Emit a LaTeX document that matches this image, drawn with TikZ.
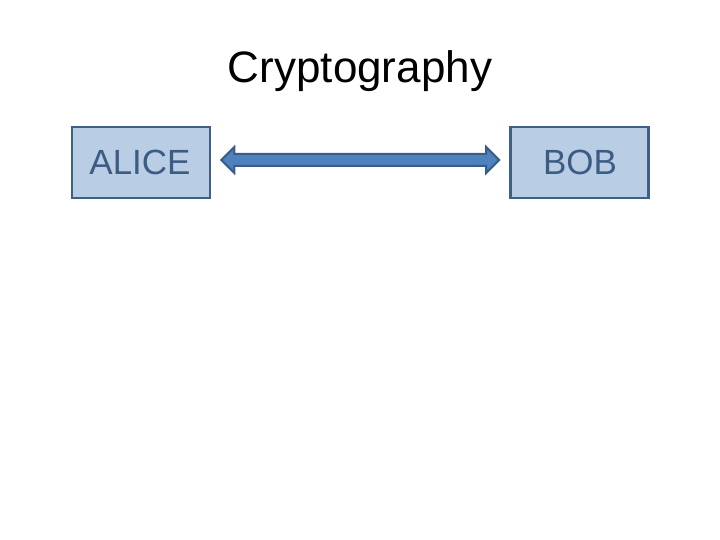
\documentclass[tikz,border=0pt]{standalone}
\usepackage{fontspec}
\setmainfont{Liberation Sans}
\usetikzlibrary{calc}
\definecolor{boxfill}{HTML}{B9CDE5}
\definecolor{boxline}{HTML}{3F5F89}
\definecolor{boxtext}{HTML}{3D5C84}
\definecolor{arrfill}{HTML}{4F81BD}
\definecolor{arrline}{HTML}{385D8A}
\begin{document}
\begin{tikzpicture}[x=1pt,y=-1pt,
  partybox/.style={draw=boxline,fill=boxfill,line width=2.8pt,minimum width=138pt,minimum height=71pt,inner sep=0pt},
  partytext/.style={font=\fontsize{35}{40}\selectfont,text=boxtext,anchor=base},
  channel/.style={draw=arrline,fill=arrfill,line width=2pt,line join=miter}]
\useasboundingbox (0,0) rectangle (720,540);
\node[font=\fontsize{44}{50}\selectfont,anchor=base] (title) at (360,83) {Cryptography};
\node[partybox] (alice) at (141,162.5) {};
\node[partybox] (bob) at (579.5,162.5) {};
\node[partytext] (alicetxt) at (140,174.5) {ALICE};
\node[partytext] (bobtxt) at (580,174.5) {BOB};
\coordinate (lt) at ($(alice.east)+(10,-2.5)$);
\coordinate (rt) at ($(bob.west)+(-10,-2.5)$);
\draw[channel] (lt) -- ++(13,-13) -- ++(0,7) -- ($(rt)+(-13,-6)$) -- ++(0,-7) -- (rt)
  -- ++(-13,13) -- ++(0,-7) -- ($(lt)+(13,6)$) -- ++(0,7) -- cycle;
\end{tikzpicture}
\end{document}
